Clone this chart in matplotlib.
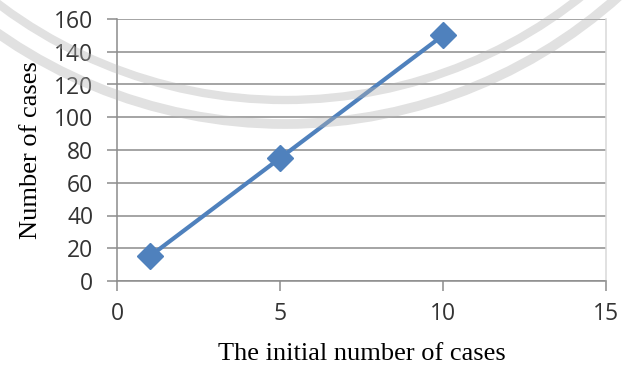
import numpy as np
import matplotlib.pyplot as plt
from matplotlib.patches import Arc

initial_cases = [1, 5, 10]
num_cases = [15, 75, 150]

x_ticks = [0, 5, 10, 15]
y_ticks = [0, 20, 40, 60, 80, 100, 120, 140, 160]

fig = plt.figure(figsize=(6.24, 3.68), dpi=100)
ax = fig.add_axes([117 / 624, 87 / 368, 489 / 624, 262 / 368])

ax.plot(initial_cases, num_cases, color='#4f81bd', lw=3.0, marker='D',
        markersize=13, markerfacecolor='#4f81bd', markeredgecolor='#4f81bd',
        zorder=3, clip_on=False)

ax.set_xlim(0, 15)
ax.set_ylim(0, 160)
ax.set_xticks(x_ticks)
ax.set_yticks(y_ticks)
ax.yaxis.grid(True, color='#8c8c8c', lw=1.1)
ax.set_axisbelow(True)

ax.spines['top'].set_visible(False)
ax.spines['right'].set_color('#d9d9d9')
ax.spines['left'].set_color('#8c8c8c')
ax.spines['bottom'].set_color('#8c8c8c')
for s in ['left', 'bottom', 'right']:
    ax.spines[s].set_linewidth(1.1)

ax.tick_params(axis='both', direction='out', length=7, width=1.1,
               color='#8c8c8c', labelcolor='#333333', labelsize=16.5)
ax.tick_params(axis='y', pad=10)
ax.tick_params(axis='x', pad=8)
for lab in ax.get_xticklabels() + ax.get_yticklabels():
    lab.set_family('Open Sans')

ax.set_xlabel('The initial number of cases', family='Liberation Serif',
              fontsize=19, labelpad=12)
ax.set_ylabel('Number of cases', family='Liberation Serif',
              fontsize=19, labelpad=9)

# faint seal arcs laid over the whole figure
ov = fig.add_axes([0, 0, 1, 1], zorder=5)
ov.set_xlim(0, 624)
ov.set_ylim(368, 0)
ov.axis('off')
ov.patch.set_alpha(0)
for r, w in [(500, 7), (476, 6)]:
    ov.add_patch(Arc((285, -376), 2 * r, 2 * r, theta1=0, theta2=180,
                     color='#b4b4b4', lw=w, alpha=0.4))

fig.savefig('out.png', dpi=100)
